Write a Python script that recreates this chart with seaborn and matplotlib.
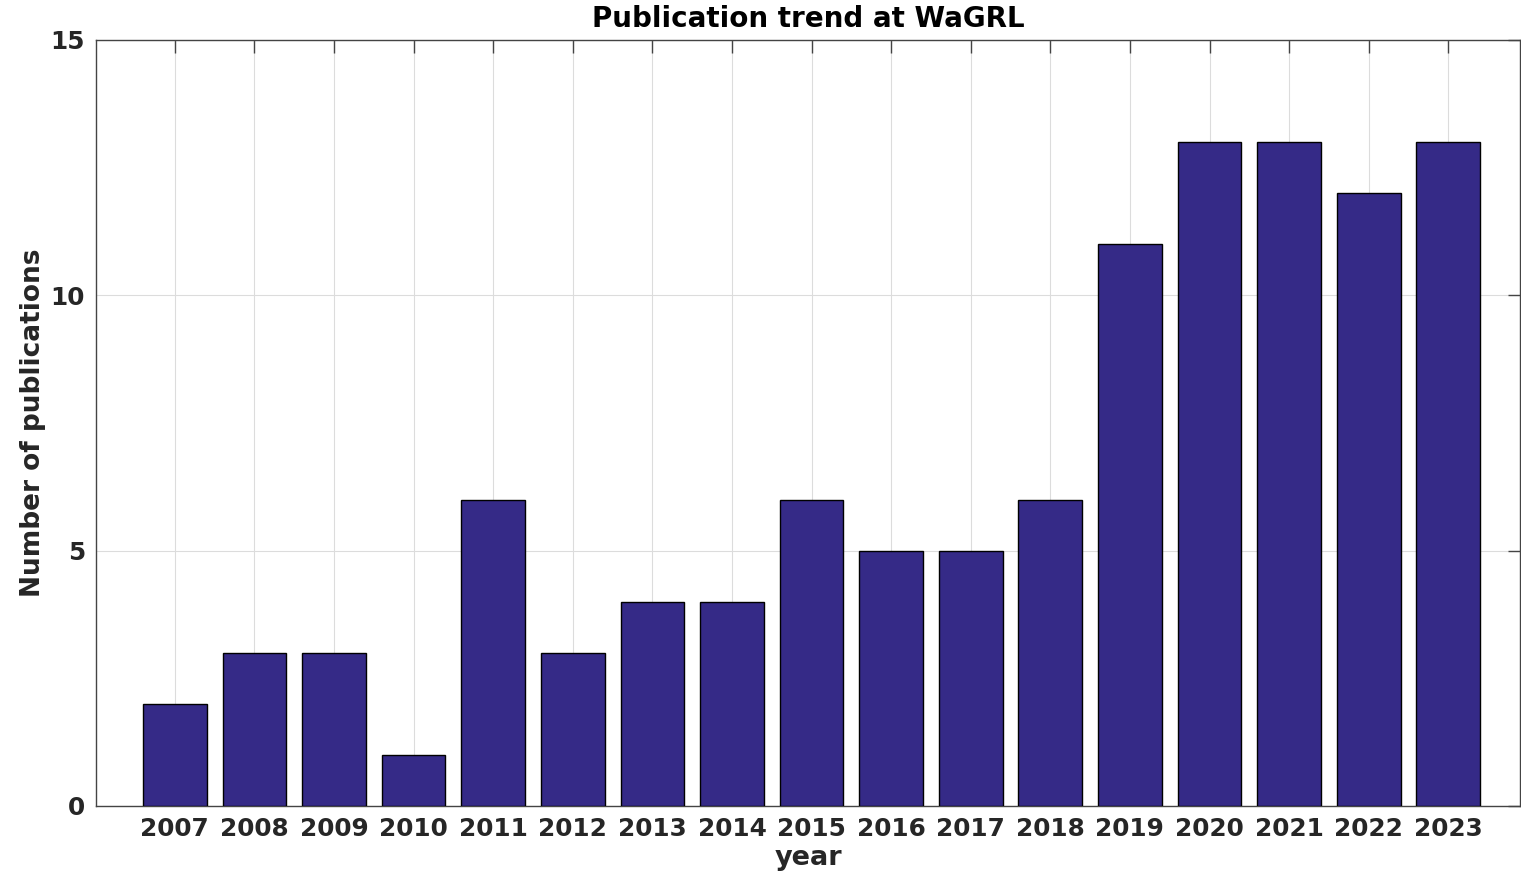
import matplotlib
matplotlib.use("Agg")
import matplotlib.pyplot as plt
import seaborn as sns
import pandas as pd

years = [2007, 2008, 2009, 2010, 2011, 2012, 2013, 2014, 2015,
         2016, 2017, 2018, 2019, 2020, 2021, 2022, 2023]
counts = [2, 3, 3, 1, 6, 3, 4, 4, 6, 5, 5, 6, 11, 13, 13, 12, 13]
y_ticks = [0, 5, 10, 15]

df = pd.DataFrame({"year": [str(y) for y in years], "count": counts})

sns.set_style("white")
plt.rcParams["font.family"] = ["DejaVu Sans"]
plt.rcParams["font.weight"] = "bold"
text_color = "#262626"

fig = plt.figure(figsize=(15.21, 8.75), dpi=100)
ax = fig.add_axes([0.0631, 0.0789, 0.9362, 0.8754])

sns.barplot(data=df, x="year", y="count", color="#352a87", saturation=1,
            edgecolor="black", linewidth=1.0, width=0.8, ax=ax, zorder=3)

ax.set_xlim(-0.99, len(years) - 0.1)
ax.set_ylim(0, 15)
ax.set_yticks(y_ticks)
ax.grid(True, color="#dcdcdc", linewidth=0.8, zorder=0)
ax.set_axisbelow(True)

ax.tick_params(axis="both", direction="in", length=9, width=1.0, color="#444444",
               top=True, right=True, labelsize=17.8, labelcolor=text_color, pad=8)
for lab in ax.get_xticklabels() + ax.get_yticklabels():
    lab.set_fontweight("bold")
for s in ax.spines.values():
    s.set_visible(True)
    s.set_color("#444444")
    s.set_linewidth(1.0)

ax.set_xlabel("year", fontsize=19.5, fontweight="bold", color=text_color, labelpad=3)
ax.set_ylabel("Number of publications", fontsize=19, fontweight="bold", color=text_color, labelpad=3)
ax.set_title("Publication trend at WaGRL", fontsize=20, fontweight="bold", color="black", pad=9)

fig.savefig("out.png", dpi=100)
